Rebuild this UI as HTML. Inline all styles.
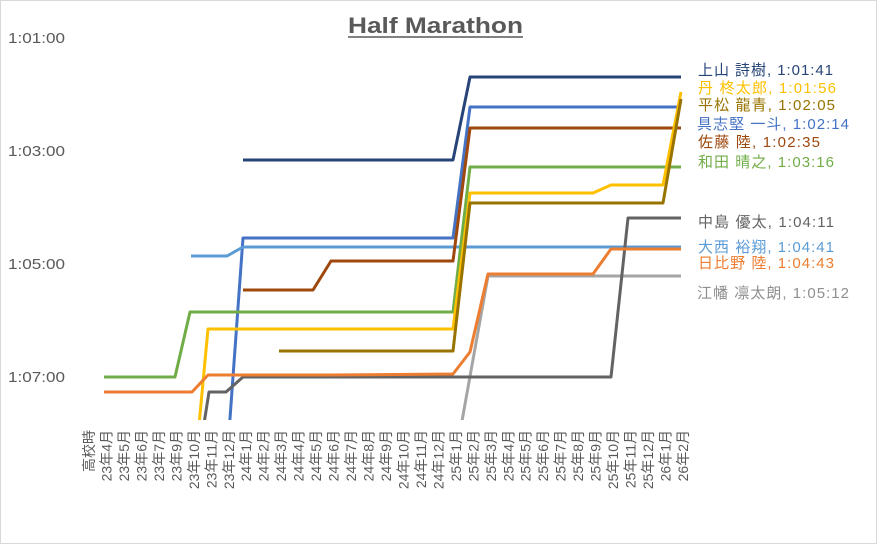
<!DOCTYPE html>
<html><head><meta charset="utf-8"><style>
html,body{margin:0;padding:0;background:#fff}
svg{display:block;font-family:"Liberation Sans","Noto Sans CJK JP",sans-serif}
</style></head><body>
<svg width="877" height="544" viewBox="0 0 877 544" xmlns="http://www.w3.org/2000/svg">
<rect x="0.5" y="0.5" width="876" height="543" fill="#fff" stroke="#d9d9d9"/>
<text x="348" y="33" font-size="22" font-weight="bold" fill="#595959" textLength="175" lengthAdjust="spacingAndGlyphs">Half Marathon</text>
<line x1="348" y1="37" x2="523" y2="37" stroke="#595959" stroke-width="1.5"/>
<g font-size="15" fill="#595959">
<text x="8" y="43" textLength="57" lengthAdjust="spacingAndGlyphs">1:01:00</text>
<text x="8" y="156" textLength="57" lengthAdjust="spacingAndGlyphs">1:03:00</text>
<text x="8" y="269" textLength="57" lengthAdjust="spacingAndGlyphs">1:05:00</text>
<text x="8" y="382" textLength="57" lengthAdjust="spacingAndGlyphs">1:07:00</text>
</g>
<defs><clipPath id="c"><rect x="60" y="30" width="700" height="390"/></clipPath></defs>
<g clip-path="url(#c)" fill="none" stroke-width="3" stroke-linejoin="round">
<polyline stroke="#264478" points="243,160 453,160 470,77 681,77"/>
<polyline stroke="#4472C4" points="227,460 243,238 453,238 470,107 681,107"/>
<polyline stroke="#5B9BD5" points="191,256 227,256 243,247 681,247"/>
<polyline stroke="#9E480E" points="243,290 313,290 331,261 453,261 470,128 681,128"/>
<polyline stroke="#70AD47" points="104,377 175,377 190,312 453,312 470,167 681,167"/>
<polyline stroke="#FFC000" points="192,500 208,329 453,329 470,193 593,193 611,185 663,185 681,92"/>
<polyline stroke="#997300" points="279,351 453,351 470,203 663,203 681,99"/>
<polyline stroke="#A5A5A5" points="455,460 488,276 681,276"/>
<polyline stroke="#636363" points="192,500 209,392 226,392 243,377 611,377 628,218 681,218"/>
<polyline stroke="#ED7D31" points="104,392 192,392 208,375 331,375 453,374 470,352 488,274 593,274 611,249 681,249"/>
</g>
<g font-size="15" lengthAdjust="spacingAndGlyphs">
<text x="698" y="75" fill="#264478" textLength="135">上山 詩樹, 1:01:41</text>
<text x="698" y="93" fill="#FFC000" textLength="138">丹 柊太郎, 1:01:56</text>
<text x="698" y="110" fill="#997300" textLength="137">平松 龍青, 1:02:05</text>
<text x="697" y="129" fill="#4472C4" textLength="152">具志堅 一斗, 1:02:14</text>
<text x="698" y="147" fill="#9E480E" textLength="122">佐藤 陸, 1:02:35</text>
<text x="698" y="167" fill="#70AD47" textLength="136">和田 晴之, 1:03:16</text>
<text x="698" y="227" fill="#636363" textLength="136">中島 優太, 1:04:11</text>
<text x="698" y="252" fill="#5B9BD5" textLength="136">大西 裕翔, 1:04:41</text>
<text x="698" y="268" fill="#ED7D31" textLength="136">日比野 陸, 1:04:43</text>
<text x="697" y="298" fill="#8f8f8f" textLength="152">江幡 凛太朗, 1:05:12</text>
</g>
<g font-size="14" fill="#595959" text-anchor="end">
<text transform="translate(94,430) rotate(-90)">高校時</text>
<text transform="translate(111.5,430) rotate(-90)">23年4月</text>
<text transform="translate(129,430) rotate(-90)">23年5月</text>
<text transform="translate(146.4,430) rotate(-90)">23年6月</text>
<text transform="translate(163.9,430) rotate(-90)">23年7月</text>
<text transform="translate(181.4,430) rotate(-90)">23年9月</text>
<text transform="translate(198.8,430) rotate(-90)">23年10月</text>
<text transform="translate(216.3,430) rotate(-90)">23年11月</text>
<text transform="translate(233.8,430) rotate(-90)">23年12月</text>
<text transform="translate(251.2,430) rotate(-90)">24年1月</text>
<text transform="translate(268.7,430) rotate(-90)">24年2月</text>
<text transform="translate(286.2,430) rotate(-90)">24年3月</text>
<text transform="translate(303.6,430) rotate(-90)">24年4月</text>
<text transform="translate(321.1,430) rotate(-90)">24年5月</text>
<text transform="translate(338.6,430) rotate(-90)">24年6月</text>
<text transform="translate(356,430) rotate(-90)">24年7月</text>
<text transform="translate(373.5,430) rotate(-90)">24年8月</text>
<text transform="translate(391,430) rotate(-90)">24年9月</text>
<text transform="translate(408.4,430) rotate(-90)">24年10月</text>
<text transform="translate(425.9,430) rotate(-90)">24年11月</text>
<text transform="translate(443.4,430) rotate(-90)">24年12月</text>
<text transform="translate(460.9,430) rotate(-90)">25年1月</text>
<text transform="translate(478.3,430) rotate(-90)">25年2月</text>
<text transform="translate(495.8,430) rotate(-90)">25年3月</text>
<text transform="translate(513.3,430) rotate(-90)">25年4月</text>
<text transform="translate(530.7,430) rotate(-90)">25年5月</text>
<text transform="translate(548.2,430) rotate(-90)">25年6月</text>
<text transform="translate(565.7,430) rotate(-90)">25年7月</text>
<text transform="translate(583.1,430) rotate(-90)">25年8月</text>
<text transform="translate(600.6,430) rotate(-90)">25年9月</text>
<text transform="translate(618.1,430) rotate(-90)">25年10月</text>
<text transform="translate(635.5,430) rotate(-90)">25年11月</text>
<text transform="translate(653,430) rotate(-90)">25年12月</text>
<text transform="translate(670.5,430) rotate(-90)">26年1月</text>
<text transform="translate(687.9,430) rotate(-90)">26年2月</text>
</g>
</svg>
</body></html>
